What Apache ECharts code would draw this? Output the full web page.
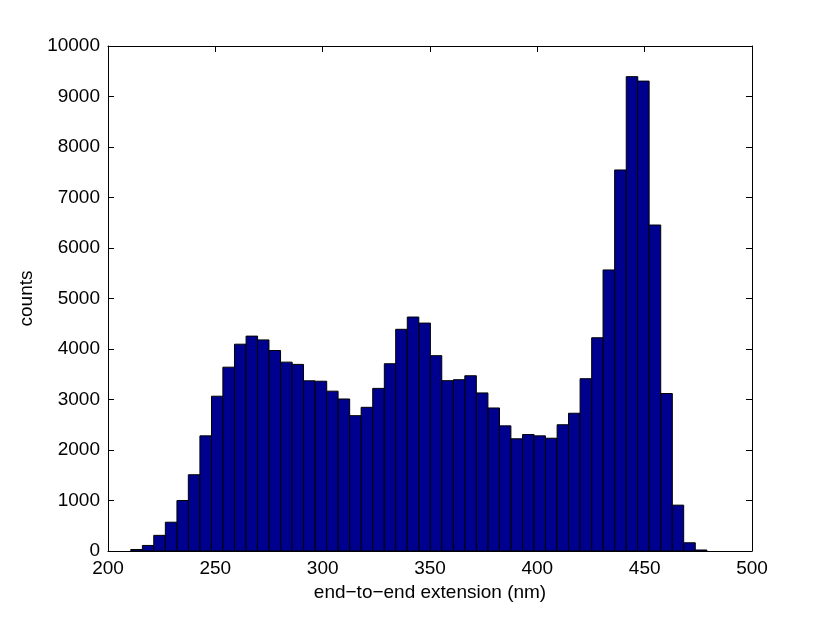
<!DOCTYPE html>
<html>
<head>
<meta charset="utf-8">
<script src="https://cdn.jsdelivr.net/npm/echarts@6/dist/echarts.min.js"></script>
<style>
    html, body { margin: 0; padding: 0; background: #fff; }
    #chart { width: 830px; height: 619px; }
</style>
</head>
<body>
<div id="chart"></div>
<script>
    // histogram bins (nm) and counts
    var binCenters = [213.3, 218.7, 224.0, 229.4, 234.8, 240.1, 245.5, 250.9, 256.2, 261.6,
        267.0, 272.3, 277.7, 283.1, 288.4, 293.8, 299.2, 304.5, 309.9, 315.3,
        320.6, 326.0, 331.4, 336.7, 342.1, 347.5, 352.8, 358.2, 363.6, 368.9,
        374.3, 379.7, 385.0, 390.4, 395.8, 401.1, 406.5, 411.9, 417.2, 422.6,
        428.0, 433.3, 438.7, 444.1, 449.4, 454.8, 460.2, 465.5, 470.9, 476.3];
    var binWidth = 5.366;
    var counts = [30, 110, 310, 570, 1000, 1510, 2280, 3065, 3640, 4095,
        4255, 4180, 3970, 3740, 3695, 3370, 3362, 3165, 3010, 2680,
        2845, 3220, 3708, 4390, 4633, 4513, 3868, 3373, 3392, 3470,
        3130, 2832, 2478, 2222, 2306, 2280, 2233, 2500, 2728, 3412,
        4223, 5565, 7545, 9393, 9305, 6455, 3118, 908, 163, 20];
    var xTicks = [200, 250, 300, 350, 400, 450, 500];
    var yTicks = [0, 1000, 2000, 3000, 4000, 5000, 6000, 7000, 8000, 9000, 10000];

    var font = 'Liberation Sans, Arial, Helvetica, sans-serif';
    var fontSize = 19;
    var barData = binCenters.map(function (c, i) { return [c, counts[i]]; });

    var myChart = echarts.init(document.getElementById('chart'), null, { renderer: 'canvas' });

    var axisCommon = {
        axisLine: { show: true, onZero: false, lineStyle: { color: '#000', width: 1 } },
        axisTick: { show: true, inside: true, length: 6, lineStyle: { color: '#000', width: 1 } },
        splitLine: { show: false }
    };

    var option = {
        animation: false,
        backgroundColor: '#fff',
        grid: { left: 108, right: 78, top: 46, bottom: 68 },
        xAxis: [
            Object.assign({
                type: 'value',
                position: 'bottom',
                min: xTicks[0],
                max: xTicks[xTicks.length - 1],
                interval: 50,
                name: 'end\u2212to\u2212end extension (nm)',
                nameLocation: 'middle',
                nameGap: 32,
                nameTextStyle: { color: '#000', fontSize: fontSize, fontFamily: font },
                axisLabel: { color: '#000', fontSize: fontSize, fontFamily: font, margin: 8,
                    formatter: function (v) { return String(v); } }
            }, axisCommon),
            Object.assign({
                type: 'value',
                position: 'top',
                min: xTicks[0],
                max: xTicks[xTicks.length - 1],
                interval: 50,
                axisLabel: { show: false }
            }, axisCommon)
        ],
        yAxis: [
            Object.assign({
                type: 'value',
                position: 'left',
                min: yTicks[0],
                max: yTicks[yTicks.length - 1],
                interval: 1000,
                name: 'counts',
                nameLocation: 'middle',
                nameGap: 57,
                nameTextStyle: { color: '#000', fontSize: fontSize, fontFamily: font },
                axisLabel: { color: '#000', fontSize: fontSize, fontFamily: font, margin: 8,
                    formatter: function (v) { return String(v); } }
            }, axisCommon),
            Object.assign({
                type: 'value',
                position: 'right',
                min: yTicks[0],
                max: yTicks[yTicks.length - 1],
                interval: 1000,
                axisLabel: { show: false }
            }, axisCommon)
        ],
        series: [
            {
                name: 'counts',
                type: 'custom',
                xAxisIndex: 0,
                yAxisIndex: 0,
                data: barData,
                renderItem: function (params, api) {
                    var c = api.value(0);
                    var v = api.value(1);
                    var p0 = api.coord([c - binWidth / 2, 0]);
                    var p1 = api.coord([c + binWidth / 2, v]);
                    return {
                        type: 'rect',
                        shape: { x: p0[0], y: p1[1], width: p1[0] - p0[0], height: p0[1] - p1[1] },
                        style: { fill: '#00008f', stroke: '#000', lineWidth: 1 }
                    };
                }
            }
        ]
    };

    myChart.setOption(option);
</script>
</body>
</html>
